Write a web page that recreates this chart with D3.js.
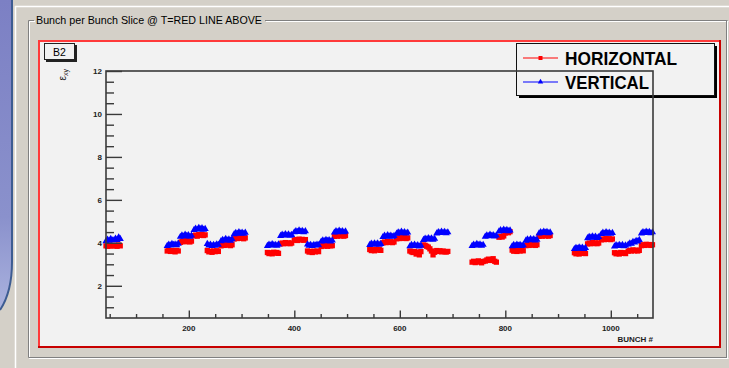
<!DOCTYPE html>
<html>
<head>
<meta charset="utf-8">
<script src="https://cdn.jsdelivr.net/npm/d3@7"></script>
<style>
  html, body { margin: 0; padding: 0; background: #d4d0c8; }
  svg { display: block; font-family: "Liberation Sans", Arial, sans-serif; }
</style>
</head>
<body>
<svg id="chart" width="729" height="368"></svg>
<script>
// first bunch # of every sub-train, bunches inside a sub-train are 3 slots apart
const subStart = [43, 58,
  159, 184, 210, 235, 261, 286,
  349, 374, 400, 425, 451, 476,
  543, 568, 594, 619, 645, 670,
  737, 762, 788, 813, 839, 864,
  931, 956, 982, 1007, 1033, 1058];
const bunchStep = 3;

const horizontal = [
  [3.86, 3.84, 3.88, 3.85, 3.87],
  [3.88, 3.86, 3.84, 3.90, 3.86],
  // train 1
  [3.62, 3.66, 3.60, 3.64, 3.63, 3.58, 3.65, 3.62],
  [4.02, 4.06, 4.09, 4.05, 4.10, 4.07, 4.04, 4.08],
  [4.33, 4.36, 4.31, 4.38, 4.35, 4.40, 4.34, 4.37],
  [3.64, 3.58, 3.61, 3.56, 3.62, 3.59, 3.63, 3.60],
  [3.86, 3.90, 3.88, 3.93, 3.89, 3.92, 3.87, 3.91],
  [4.18, 4.22, 4.20, 4.25, 4.21, 4.24, 4.19, 4.23],
  // train 2
  [3.55, 3.50, 3.54, 3.49, 3.56, 3.52, 3.55, 3.51],
  [3.95, 3.99, 3.96, 4.01, 3.97, 4.00, 3.96, 3.99],
  [4.12, 4.15, 4.11, 4.17, 4.13, 4.16, 4.12, 4.15],
  [3.62, 3.57, 3.60, 3.55, 3.61, 3.58, 3.62, 3.59],
  [3.83, 3.87, 3.85, 3.89, 3.84, 3.88, 3.86, 3.87],
  [4.30, 4.34, 4.31, 4.36, 4.32, 4.35, 4.31, 4.34],
  // train 3
  [3.69, 3.64, 3.68, 3.63, 3.70, 3.66, 3.69, 3.65],
  [4.00, 4.04, 4.01, 4.06, 4.02, 4.05, 4.01, 4.04],
  [4.19, 4.23, 4.20, 4.26, 4.21, 4.24, 4.20, 4.23],
  [3.62, 3.58, 3.55, 3.60, 3.48, 3.57, 3.44, 3.59],
  [3.90, 3.88, 3.84, 3.80, 3.72, 3.62, 3.44, 3.56],
  [3.64, 3.60, 3.63, 3.58, 3.62, 3.59, 3.57, 3.60],
  // train 4
  [3.10, 3.14, 3.08, 3.12, 3.16, 3.11, 3.07, 3.13],
  [3.15, 3.20, 3.24, 3.18, 3.22, 3.26, 3.14, 3.10],
  [4.26, 4.30, 4.27, 4.32, 4.46, 4.50, 4.47, 4.52],
  [3.66, 3.61, 3.65, 3.60, 3.67, 3.62, 3.66, 3.63],
  [3.87, 3.91, 3.88, 3.93, 3.89, 3.92, 3.88, 3.91],
  [4.30, 4.34, 4.31, 4.36, 4.32, 4.35, 4.31, 4.34],
  // train 5
  [3.54, 3.49, 3.53, 3.48, 3.55, 3.51, 3.54, 3.50],
  [3.95, 3.99, 3.96, 4.01, 3.97, 4.00, 3.96, 3.99],
  [4.14, 4.18, 4.15, 4.20, 4.16, 4.19, 4.15, 4.18],
  [3.54, 3.49, 3.53, 3.48, 3.55, 3.51, 3.54, 3.50],
  [3.61, 3.65, 3.62, 3.67, 3.63, 3.66, 3.62, 3.65],
  [3.87, 3.91, 3.88, 3.93, 3.89, 3.92, 3.88, 3.91]
];

const vertical = [
  [4.08, 4.15, 4.10, 4.18, 4.12],
  [4.12, 4.20, 4.14, 4.26, 4.18],
  // train 1
  [3.86, 3.92, 3.88, 3.95, 3.90, 3.93, 3.89, 3.96],
  [4.28, 4.35, 4.30, 4.38, 4.32, 4.36, 4.29, 4.34],
  [4.60, 4.66, 4.62, 4.70, 4.64, 4.68, 4.61, 4.65],
  [3.95, 3.88, 3.92, 3.86, 3.90, 3.87, 3.93, 3.91],
  [4.08, 4.14, 4.11, 4.18, 4.12, 4.16, 4.10, 4.17],
  [4.40, 4.46, 4.43, 4.50, 4.44, 4.48, 4.42, 4.47],
  // train 2
  [3.86, 3.92, 3.88, 3.94, 3.89, 3.91, 3.87, 3.93],
  [4.32, 4.38, 4.34, 4.40, 4.35, 4.39, 4.33, 4.37],
  [4.49, 4.55, 4.51, 4.58, 4.52, 4.56, 4.50, 4.54],
  [3.93, 3.87, 3.91, 3.85, 3.90, 3.88, 3.92, 3.89],
  [4.06, 4.12, 4.08, 4.14, 4.09, 4.13, 4.07, 4.11],
  [4.48, 4.54, 4.50, 4.57, 4.51, 4.55, 4.49, 4.53],
  // train 3
  [3.90, 3.96, 3.92, 3.98, 3.93, 3.97, 3.91, 3.95],
  [4.27, 4.33, 4.29, 4.36, 4.30, 4.34, 4.28, 4.32],
  [4.43, 4.49, 4.45, 4.52, 4.46, 4.50, 4.44, 4.48],
  [3.84, 3.90, 3.86, 3.92, 3.85, 3.89, 3.83, 3.88],
  [4.14, 4.20, 4.16, 4.22, 4.17, 4.21, 4.15, 4.19],
  [4.44, 4.50, 4.46, 4.52, 4.47, 4.51, 4.45, 4.49],
  // train 4
  [3.86, 3.92, 3.88, 3.95, 3.89, 3.93, 3.87, 3.91],
  [4.29, 4.35, 4.31, 4.38, 4.32, 4.36, 4.30, 4.34],
  [4.53, 4.59, 4.55, 4.62, 4.56, 4.60, 4.54, 4.58],
  [3.84, 3.90, 3.86, 3.92, 3.87, 3.91, 3.85, 3.89],
  [4.10, 4.16, 4.12, 4.18, 4.13, 4.17, 4.11, 4.15],
  [4.44, 4.50, 4.46, 4.52, 4.47, 4.51, 4.45, 4.49],
  // train 5
  [3.71, 3.77, 3.73, 3.79, 3.74, 3.78, 3.72, 3.76],
  [4.22, 4.28, 4.24, 4.30, 4.25, 4.29, 4.23, 4.27],
  [4.41, 4.47, 4.43, 4.50, 4.44, 4.48, 4.42, 4.46],
  [3.83, 3.89, 3.85, 3.91, 3.86, 3.90, 3.84, 3.88],
  [3.92, 3.98, 3.96, 4.04, 4.02, 4.09, 4.07, 4.14],
  [4.44, 4.50, 4.46, 4.52, 4.47, 4.51, 4.45, 4.49]
];

const xTickLabels = [200, 400, 600, 800, 1000];
const yTickLabels = [2, 4, 6, 8, 10, 12];
const legendNames = ["HORIZONTAL", "VERTICAL"];

const svg = d3.select("#chart");

// ---- window decoration ----
const defs = svg.append("defs");
const grad = defs.append("linearGradient").attr("id", "deskBlue")
    .attr("x1", 0).attr("y1", 0).attr("x2", 0).attr("y2", 1);
grad.append("stop").attr("offset", "0%").attr("stop-color", "#7c80c4");
grad.append("stop").attr("offset", "70%").attr("stop-color", "#8a91cc");
grad.append("stop").attr("offset", "100%").attr("stop-color", "#aab2de");

svg.append("path")
    .attr("d", "M0,0 L12,0 L12,262 Q12,292 0,310 Z")
    .attr("fill", "url(#deskBlue)");
svg.append("path")
    .attr("d", "M12,0 L12,262 Q12,292 0,310")
    .attr("fill", "none").attr("stroke", "#3d5c92").attr("stroke-width", 2);

svg.append("line").attr("x1", 15.5).attr("x2", 15.5).attr("y1", 6).attr("y2", 368)
    .attr("stroke", "#ffffff").attr("stroke-width", 1.5);
svg.append("line").attr("x1", 15).attr("x2", 729).attr("y1", 6.5).attr("y2", 6.5)
    .attr("stroke", "#ffffff").attr("stroke-width", 1.5);

// group box (etched)
function etched(x1, y1, x2, y2) {
  svg.append("line").attr("x1", x1).attr("y1", y1).attr("x2", x2).attr("y2", y2)
      .attr("stroke", "#808080");
  svg.append("line").attr("x1", x1 + 1).attr("y1", y1 + 1).attr("x2", x2 + 1).attr("y2", y2 + 1)
      .attr("stroke", "#ffffff");
}
etched(28.5, 20.5, 28.5, 357.5);
etched(28.5, 357.5, 727.5, 357.5);
etched(28.5, 20.5, 34, 20.5);
etched(265, 20.5, 727.5, 20.5);
etched(726.5, 20.5, 726.5, 357.5);

svg.append("text").attr("x", 36).attr("y", 24)
    .attr("font-size", 10.7).attr("fill", "#000")
    .text("Bunch per Bunch Slice @ T=RED LINE ABOVE");

// canvas with red highlight border
svg.append("rect").attr("x", 39).attr("y", 41).attr("width", 681).attr("height", 306)
    .attr("fill", "#f2f2f2");
svg.append("path").attr("d", "M39,347 L39,41 L720,41")
    .attr("fill", "none").attr("stroke", "#ff3a3a").attr("stroke-width", 2);
svg.append("path").attr("d", "M38,347 L720,347 L720,40")
    .attr("fill", "none").attr("stroke", "#c80000").attr("stroke-width", 2);

// "B2" pave
svg.append("rect").attr("x", 46).attr("y", 45).attr("width", 31).attr("height", 17).attr("fill", "#222");
svg.append("rect").attr("x", 44.5).attr("y", 43.5).attr("width", 30).attr("height", 16)
    .attr("fill", "#f2f2f2").attr("stroke", "#222");
svg.append("text").attr("x", 59.5).attr("y", 55.5).attr("text-anchor", "middle")
    .attr("font-size", 10.5).attr("fill", "#000").text("B2");

// ---- plot ----
const frameLeft = 106, frameRight = 653, frameTop = 71, frameBottom = 318;
const x = d3.scaleLinear().domain([43, 1080]).range([frameLeft, frameRight]);
const y = d3.scaleLinear().domain([0.5, 12]).range([frameBottom, frameTop]);

// legend (frame is drawn over it, as in the original)
const lg = svg.append("g");
lg.append("rect").attr("x", 519).attr("y", 46).attr("width", 198).attr("height", 52).attr("fill", "#000");
lg.append("rect").attr("x", 516.5).attr("y", 43.5).attr("width", 198).attr("height", 52)
    .attr("fill", "#f2f2f2").attr("stroke", "#111");
const legendColors = ["#ff0000", "#0000ff"];
const legendY = [58, 82];
legendNames.forEach((name, i) => {
  lg.append("line").attr("x1", 523).attr("x2", 558).attr("y1", legendY[i]).attr("y2", legendY[i])
      .attr("stroke", legendColors[i]).attr("stroke-width", 1);
  lg.append("path").attr("transform", `translate(540.5,${legendY[i]})`)
      .attr("d", d3.symbol().type(i === 0 ? d3.symbolSquare : d3.symbolTriangle).size(i === 0 ? 16 : 13)())
      .attr("fill", legendColors[i]);
  lg.append("text").attr("x", 565).attr("y", legendY[i] + 6.8)
      .attr("font-size", 18.5).attr("font-weight", "bold").attr("fill", "#000")
      .attr("textLength", i === 0 ? 112 : 84).attr("lengthAdjust", "spacingAndGlyphs")
      .text(name);
});

// markers
function points(values) {
  const out = [];
  values.forEach((sub, i) => sub.forEach((v, j) => out.push([subStart[i] + j * bunchStep, v])));
  return out;
}
const square = d3.symbol().type(d3.symbolSquare).size(28)();
const triangle = d3.symbol().type(d3.symbolTriangle).size(22)();

svg.append("g").selectAll("path").data(points(horizontal)).join("path")
    .attr("transform", d => `translate(${x(d[0])},${y(d[1])})`)
    .attr("d", square).attr("fill", "#ff0000");
svg.append("g").selectAll("path").data(points(vertical)).join("path")
    .attr("transform", d => `translate(${x(d[0])},${y(d[1])})`)
    .attr("d", triangle).attr("fill", "#0000ff");

// frame
const frameColor = "#3a3a3a";
svg.append("rect").attr("x", frameLeft).attr("y", frameTop)
    .attr("width", frameRight - frameLeft).attr("height", frameBottom - frameTop)
    .attr("fill", "none").attr("stroke", frameColor).attr("stroke-width", 1.6);

// y axis: ticks pointing into the frame
const yAxis = d3.axisRight(y).tickValues(d3.range(1, 12.01, 0.5)).tickSize(8).tickFormat("");
const gy = svg.append("g").attr("transform", `translate(${frameLeft},0)`).call(yAxis);
gy.select(".domain").remove();
gy.selectAll(".tick line").attr("stroke", frameColor).attr("stroke-width", 1.4)
    .attr("x2", d => (d % 2 === 0 ? 16 : 8));
svg.append("g").selectAll("text").data(yTickLabels).join("text")
    .attr("x", 102).attr("y", d => y(d) + 3)
    .attr("text-anchor", "end").attr("font-size", 8).attr("font-weight", "bold").attr("fill", "#222")
    .text(d => d);

// x axis: ticks pointing up into the frame
const xAxis = d3.axisTop(x).tickValues(d3.range(50, 1051, 50)).tickSize(4).tickFormat("");
const gx = svg.append("g").attr("transform", `translate(0,${frameBottom})`).call(xAxis);
gx.select(".domain").remove();
gx.selectAll(".tick line").attr("stroke", frameColor).attr("stroke-width", 1.4)
    .attr("y2", d => (d % 200 === 0 ? -7.5 : -4));
svg.append("g").selectAll("text").data(xTickLabels).join("text")
    .attr("x", d => x(d)).attr("y", 331)
    .attr("text-anchor", "middle").attr("font-size", 8).attr("font-weight", "bold").attr("fill", "#222")
    .text(d => d);

svg.append("text").attr("x", frameRight).attr("y", 342).attr("text-anchor", "end")
    .attr("font-size", 8).attr("font-weight", "bold").attr("fill", "#222").text("BUNCH #");

// y title: epsilon_xy, rotated
const yt = svg.append("text").attr("transform", "translate(65.5,69) rotate(-90)")
    .attr("text-anchor", "end").attr("font-size", 10).attr("fill", "#222");
yt.append("tspan").text("ε");
yt.append("tspan").attr("font-size", 7).attr("dy", 2).text("xy");
</script>
</body>
</html>
